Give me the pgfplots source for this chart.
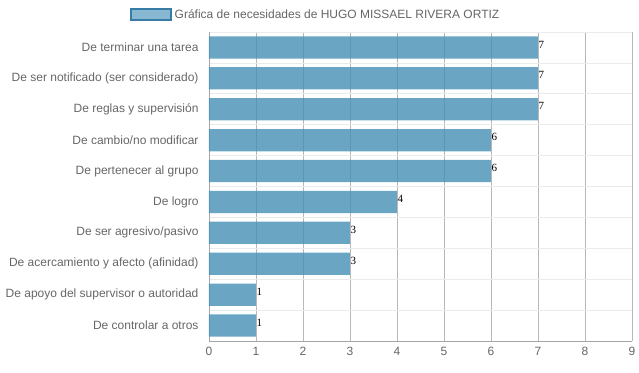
\documentclass[border=0pt]{standalone}
\usepackage{pgfplots}
\pgfplotsset{compat=1.18}
\usepackage{fontspec}
\setmainfont{Liberation Sans}
\newfontfamily\serifnum{Liberation Serif}
\definecolor{barfill}{RGB}{69,144,181}
\definecolor{legfill}{RGB}{106,166,198}
\definecolor{legdraw}{RGB}{54,124,166}
\definecolor{ticktext}{RGB}{102,102,102}
\begin{document}
\begin{tikzpicture}
\begin{axis}[
  scale only axis, width=423pt, height=309pt,
  xbar, bar width=0.72, bar shift=0pt,
  xmin=0, xmax=9, ymin=-0.5, ymax=9.5, y dir=reverse,
  xtick={0,...,9}, ytick={0,...,9},
  yticklabels={De terminar una tarea,De ser notificado (ser considerado),De reglas y supervisión,De cambio/no modificar,De pertenecer al grupo,De logro,De ser agresivo/pasivo,De acercamiento y afecto (afinidad),De apoyo del supervisor o autoridad,De controlar a otros},
  minor ytick={-0.5,0.5,...,9.5},
  xmajorgrids, yminorgrids,
  major grid style={color=black!28, line width=0.8pt},
  minor grid style={color=black!8, line width=0.8pt},
  axis x line*=bottom, axis y line*=left,
  axis line style={color=black!35, line width=0.8pt},
  major tick length=0pt, minor tick length=8pt,
  minor tick style={color=black!8, line width=0.8pt},
  y tick style={draw=none},
  ytick pos=left, xtick pos=bottom,
  tick align=outside,
  ticklabel style={font=\fontsize{12}{14}\selectfont, text=ticktext},
  /pgf/number format/assume math mode=true,
  yticklabel style={xshift=-7pt},
  xticklabel style={yshift=-3pt},
  nodes near coords,
  nodes near coords style={font=\serifnum\fontsize{11}{12}\selectfont, text=black, anchor=west, inner sep=0.5pt, yshift=3pt},
  legend style={draw=none, at={(0.2535,1)}, anchor=south, yshift=8pt, font=\fontsize{12}{14}\selectfont, text=ticktext, legend cell align=left, nodes={inner xsep=3pt}},
  legend image code/.code={\draw[fill=legfill, draw=legdraw, line width=1.6pt] (0pt,-5.5pt) rectangle (40pt,5.5pt);},
]
\addplot[fill=barfill, fill opacity=0.8, draw=none, text opacity=1] coordinates {
(7,0) (7,1) (7,2) (6,3) (6,4) (4,5) (3,6) (3,7) (1,8) (1,9)};
\addlegendentry{Gráfica de necesidades de HUGO MISSAEL RIVERA ORTIZ}
\coordinate (tl) at (axis cs:0,-0.5);
\end{axis}
\path[use as bounding box] (tl) ++(-209pt,32pt) rectangle ++(639pt,-372pt);
\end{tikzpicture}
\end{document}
